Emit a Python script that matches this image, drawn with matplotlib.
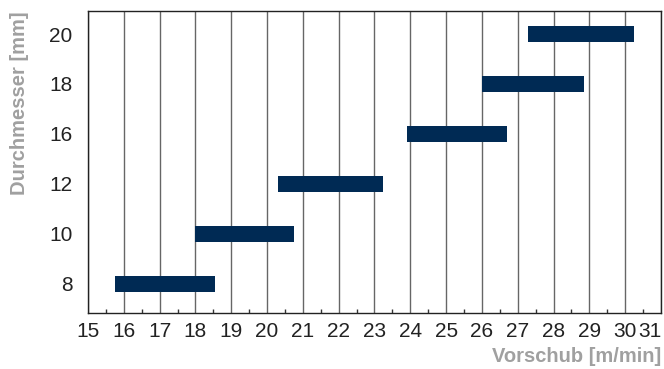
import numpy as np
import matplotlib.pyplot as plt

# Durchmesser-Kategorien und Vorschub-Bereiche (von/bis)
durchmesser = ['8', '10', '12', '16', '18', '20']
vorschub_von = [15.75, 18.0, 20.3, 23.9, 26.0, 27.3]
vorschub_bis = [18.55, 20.75, 23.25, 26.7, 28.85, 30.25]

plt.rcParams['font.family'] = ['Liberation Sans', 'DejaVu Sans']

fig = plt.figure(figsize=(6.64, 3.69), dpi=100)
ax = fig.add_axes([0.1325, 0.153, 0.863, 0.817])

y = np.arange(len(durchmesser))
breite = np.array(vorschub_bis) - np.array(vorschub_von)
ax.barh(y, breite, left=vorschub_von, height=0.32, color='#002a54', zorder=3)

# Gitter
ax.set_xlim(15, 31)
ax.set_ylim(-0.58, 5.46)
ax.set_xticks(np.arange(15, 32, 1))
ax.set_xticks(np.arange(15.5, 31, 1), minor=True)
ax.set_yticks(y)
ax.set_yticklabels(durchmesser)
ax.grid(axis='x', color='#666666', linewidth=1.0, zorder=1)

ax.tick_params(axis='x', which='major', length=0, pad=7, labelsize=15, labelcolor='#222222')
ax.tick_params(axis='x', which='minor', direction='in', length=3, width=1, color='#333333')
ax.tick_params(axis='y', length=0, pad=11, labelsize=15, labelcolor='#222222')

# letzte Beschriftung nicht abschneiden
ax.get_xticklabels()[-1].set_horizontalalignment('right')

for s in ax.spines.values():
    s.set_color('#222222')
    s.set_linewidth(1.0)

ax.set_xlabel('Vorschub [m/min]', fontsize=14.5, fontweight='bold', color='#a0a0a0')
ax.xaxis.set_label_coords(1.0, -0.115)
ax.xaxis.label.set_horizontalalignment('right')
ax.xaxis.label.set_verticalalignment('top')

ax.set_ylabel('Durchmesser [mm]', fontsize=14.5, fontweight='bold', color='#a0a0a0')
ax.yaxis.set_label_coords(-0.12, 1.0)
ax.yaxis.label.set_verticalalignment('center')
ax.yaxis.label.set_horizontalalignment('right')

plt.savefig('out.png', dpi=100)
